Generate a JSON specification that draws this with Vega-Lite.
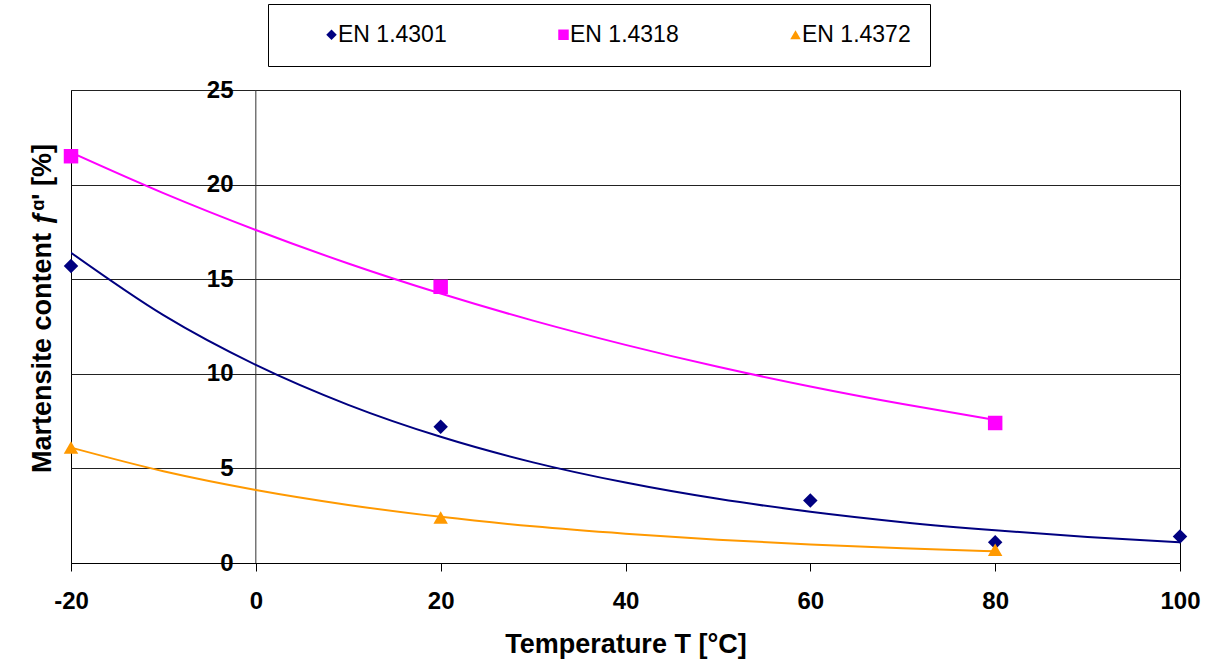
{
  "$schema": "https://vega.github.io/schema/vega-lite/v6.json",
  "autosize": {"type": "none"},
  "width": 1109,
  "height": 473,
  "padding": {"left": 71, "top": 90, "right": 28, "bottom": 97},
  "background": "white",
  "config": {
    "font": "Liberation Sans",
    "view": {"stroke": "black", "strokeWidth": 1}
  },
  "datasets": {
    "points": [
      {"T": -20, "f": 15.7, "grade": "EN 1.4301"},
      {"T": 20, "f": 7.2, "grade": "EN 1.4301"},
      {"T": 60, "f": 3.3, "grade": "EN 1.4301"},
      {"T": 80, "f": 1.1, "grade": "EN 1.4301"},
      {"T": 100, "f": 1.4, "grade": "EN 1.4301"},
      {"T": -20, "f": 21.5, "grade": "EN 1.4318"},
      {"T": 20, "f": 14.6, "grade": "EN 1.4318"},
      {"T": 80, "f": 7.4, "grade": "EN 1.4318"},
      {"T": -20, "f": 6.1, "grade": "EN 1.4372"},
      {"T": 20, "f": 2.4, "grade": "EN 1.4372"},
      {"T": 80, "f": 0.7, "grade": "EN 1.4372"}
    ],
    "trend": [
      {"T": -20, "f": 16.4, "curve": "fit 1.4301"},
      {"T": -10, "f": 13.1, "curve": "fit 1.4301"},
      {"T": 0, "f": 10.47, "curve": "fit 1.4301"},
      {"T": 10, "f": 8.36, "curve": "fit 1.4301"},
      {"T": 20, "f": 6.67, "curve": "fit 1.4301"},
      {"T": 30, "f": 5.32, "curve": "fit 1.4301"},
      {"T": 40, "f": 4.25, "curve": "fit 1.4301"},
      {"T": 50, "f": 3.39, "curve": "fit 1.4301"},
      {"T": 60, "f": 2.71, "curve": "fit 1.4301"},
      {"T": 70, "f": 2.16, "curve": "fit 1.4301"},
      {"T": 80, "f": 1.73, "curve": "fit 1.4301"},
      {"T": 90, "f": 1.38, "curve": "fit 1.4301"},
      {"T": 100, "f": 1.1, "curve": "fit 1.4301"},
      {"T": -20, "f": 21.7, "curve": "fit 1.4318"},
      {"T": -10, "f": 19.55, "curve": "fit 1.4318"},
      {"T": 0, "f": 17.6, "curve": "fit 1.4318"},
      {"T": 10, "f": 15.83, "curve": "fit 1.4318"},
      {"T": 20, "f": 14.24, "curve": "fit 1.4318"},
      {"T": 30, "f": 12.81, "curve": "fit 1.4318"},
      {"T": 40, "f": 11.53, "curve": "fit 1.4318"},
      {"T": 50, "f": 10.37, "curve": "fit 1.4318"},
      {"T": 60, "f": 9.33, "curve": "fit 1.4318"},
      {"T": 70, "f": 8.4, "curve": "fit 1.4318"},
      {"T": 80, "f": 7.56, "curve": "fit 1.4318"},
      {"T": -20, "f": 6.1, "curve": "fit 1.4372"},
      {"T": -10, "f": 4.85, "curve": "fit 1.4372"},
      {"T": 0, "f": 3.86, "curve": "fit 1.4372"},
      {"T": 10, "f": 3.07, "curve": "fit 1.4372"},
      {"T": 20, "f": 2.44, "curve": "fit 1.4372"},
      {"T": 30, "f": 1.94, "curve": "fit 1.4372"},
      {"T": 40, "f": 1.55, "curve": "fit 1.4372"},
      {"T": 50, "f": 1.23, "curve": "fit 1.4372"},
      {"T": 60, "f": 0.98, "curve": "fit 1.4372"},
      {"T": 70, "f": 0.78, "curve": "fit 1.4372"},
      {"T": 80, "f": 0.62, "curve": "fit 1.4372"}
    ],
    "zero": [{"T": 0}]
  },
  "encoding": {
    "x": {
      "field": "T", "type": "quantitative",
      "scale": {"domain": [-20, 100], "nice": false, "zero": false},
      "axis": {
        "values": [-20, 0, 20, 40, 60, 80, 100],
        "labelExpr": "datum.value < 0 ? '-' + abs(datum.value) : '' + datum.value",
        "labelFlush": false,
        "labelOverlap": false,
        "grid": false,
        "domain": true, "domainColor": "black", "domainWidth": 1,
        "ticks": true, "tickColor": "black", "tickSize": 8, "tickWidth": 1,
        "labelFont": "Liberation Sans", "labelFontSize": 24, "labelFontWeight": "bold", "labelColor": "black",
        "labelPadding": 18,
        "title": "Temperature T [°C]",
        "titleFont": "Liberation Sans", "titleFontSize": 27, "titleFontWeight": "bold", "titleColor": "black",
        "titlePadding": 18
      }
    }
  },
  "layer": [
    {
      "data": {"name": "zero"},
      "mark": {"type": "rule", "color": "#333333", "strokeWidth": 1},
      "encoding": {"x": {"field": "T", "type": "quantitative"}}
    },
    {
      "data": {"name": "trend"},
      "mark": {"type": "line", "strokeWidth": 2, "interpolate": "monotone", "clip": true},
      "encoding": {
        "y": {
          "field": "f", "type": "quantitative",
          "scale": {"domain": [0, 25], "nice": false},
          "axis": {
            "values": [0, 5, 10, 15, 20, 25],
            "grid": true, "gridColor": "#222222", "gridWidth": 1,
            "domain": false, "ticks": false, "tickSize": 0,
            "labelFont": "Liberation Sans", "labelFontSize": 24, "labelFontWeight": "bold", "labelColor": "black",
            "labelPadding": -162,
            "title": "Martensite content ƒᵅ' [%]",
            "titleFont": "Liberation Sans", "titleFontSize": 27, "titleFontWeight": "bold", "titleColor": "black",
            "titleAngle": -90, "titleX": -21, "titleY": 218, "titleBaseline": "alphabetic", "titleAlign": "center"
          }
        },
        "stroke": {
          "field": "curve", "type": "nominal",
          "scale": {"domain": ["fit 1.4301", "fit 1.4318", "fit 1.4372"], "range": ["#000080", "#FF00FF", "#FF9900"]},
          "legend": null
        }
      }
    },
    {
      "data": {"name": "points"},
      "mark": {"type": "point", "filled": true, "opacity": 1, "size": 210},
      "encoding": {
        "y": {"field": "f", "type": "quantitative"},
        "color": {
          "field": "grade", "type": "nominal",
          "scale": {"domain": ["EN 1.4301", "EN 1.4318", "EN 1.4372"], "range": ["#000080", "#FF00FF", "#FF9900"]},
          "legend": {
            "orient": "none", "legendX": 197, "legendY": -86,
            "direction": "horizontal",
            "title": null,
            "strokeColor": "black", "fillColor": "white",
            "padding": 19,
            "symbolOffset": 33,
            "labelOffset": -5,
            "columnPadding": 72,
            "symbolSize": 110,
            "labelFont": "Liberation Sans", "labelFontSize": 23, "labelColor": "black"
          }
        },
        "shape": {
          "field": "grade", "type": "nominal",
          "scale": {"domain": ["EN 1.4301", "EN 1.4318", "EN 1.4372"], "range": ["diamond", "square", "triangle-up"]},
          "legend": {
            "orient": "none", "legendX": 197, "legendY": -86,
            "direction": "horizontal",
            "title": null,
            "strokeColor": "black", "fillColor": "white",
            "padding": 19,
            "symbolOffset": 33,
            "labelOffset": -5,
            "columnPadding": 72,
            "symbolSize": 110,
            "labelFont": "Liberation Sans", "labelFontSize": 23, "labelColor": "black"
          }
        }
      }
    }
  ]
}
